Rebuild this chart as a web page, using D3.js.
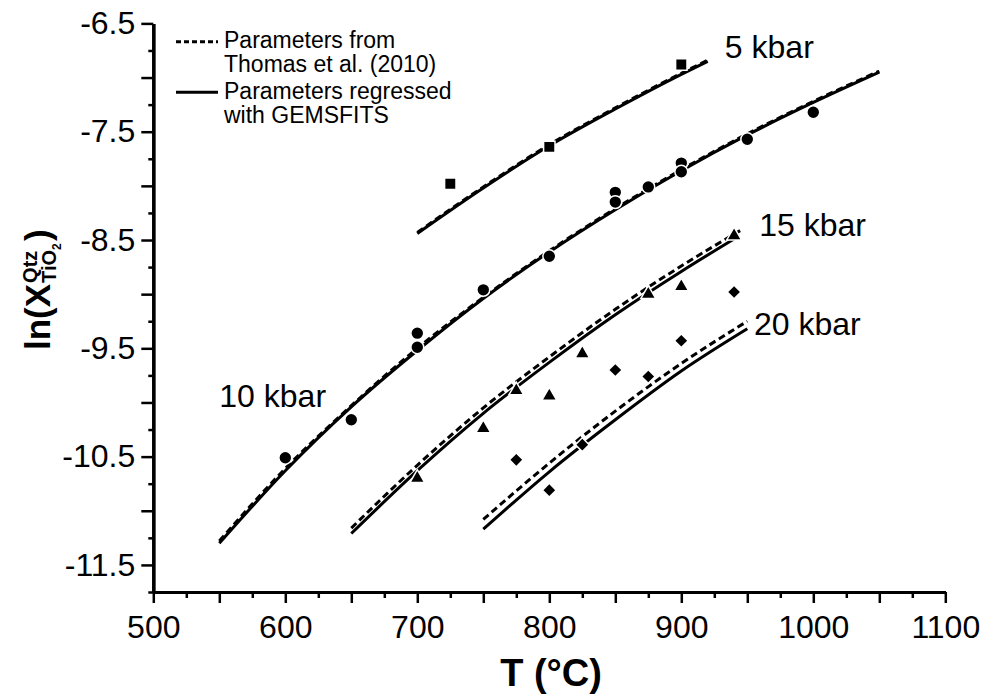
<!DOCTYPE html>
<html>
<head>
<meta charset="utf-8">
<script src="https://cdn.jsdelivr.net/npm/d3@7"></script>
<style>
  body { margin: 0; background: #fff; }
  svg { display: block; font-family: "Liberation Sans", Arial, sans-serif; }
</style>
</head>
<body>
<div id="chart"></div>
<script>
// experimental points: T (°C) and ln(X TiO2 in quartz)
const squareT = [725, 800, 900]; // 5 kbar
const squareLnX = [-7.98, -7.64, -6.88];
const circleT = [600, 650, 700, 700, 750, 800, 850, 850, 875, 900, 900, 950, 1000]; // 10 kbar
const circleLnX = [-10.51, -10.16, -9.49, -9.36, -8.96, -8.65, -8.06, -8.15, -8.01, -7.79, -7.87, -7.57, -7.32];
const triangleT = [700, 750, 775, 800, 825, 875, 900, 940]; // 15 kbar
const triangleLnX = [-10.70, -10.24, -9.89, -9.94, -9.55, -9.00, -8.93, -8.46];
const diamondT = [775, 800, 825, 850, 875, 900, 940]; // 20 kbar
const diamondLnX = [-10.53, -10.81, -10.39, -9.70, -9.76, -9.43, -8.98];

// model curves, dashed = Thomas et al. (2010), solid = GEMSFITS
const curveT5 = [700, 750, 800, 850, 900, 920];
const thomas5 = [-8.43, -8.01, -7.62, -7.28, -6.96, -6.84];
const gems5 = [-8.44, -8.02, -7.63, -7.29, -6.97, -6.85];
const curveT10 = [550, 600, 650, 700, 750, 800, 850, 900, 950, 1000, 1050];
const thomas10 = [-11.28, -10.61, -10.03, -9.50, -9.03, -8.60, -8.21, -7.85, -7.52, -7.22, -6.94];
const gems10 = [-11.30, -10.63, -10.04, -9.52, -9.04, -8.61, -8.22, -7.86, -7.53, -7.23, -6.95];
const thomasT15 = [650, 700, 750, 800, 850, 900, 945];
const thomas15 = [-11.16, -10.58, -10.05, -9.58, -9.14, -8.74, -8.41];
const gemsT15 = [650, 700, 750, 800, 850, 900, 940];
const gems15 = [-11.21, -10.63, -10.10, -9.63, -9.19, -8.79, -8.49];
const curveT20 = [750, 800, 850, 900, 950];
const thomas20 = [-11.08, -10.56, -10.08, -9.64, -9.25];
const gems20 = [-11.17, -10.64, -10.16, -9.71, -9.32];

const pressureLabels = ["5 kbar", "10 kbar", "15 kbar", "20 kbar"];
const labelT = [933, 550, 959, 955];
const labelLnX = [-6.82, -10.04, -8.46, -9.38];

const xTickLabels = [500, 600, 700, 800, 900, 1000, 1100];
const yTickLabels = [-6.5, -7.5, -8.5, -9.5, -10.5, -11.5];
const legendLabels = [["Parameters from", "Thomas et al. (2010)"], ["Parameters regressed", "with GEMSFITS"]];

const zip = (xs, ys) => xs.map((x, i) => [x, ys[i]]);

const width = 986, height = 695;
const svg = d3.select("#chart").append("svg")
  .attr("width", width)
  .attr("height", height);

const x = d3.scaleLinear().domain([500, 1100]).range([153.3, 945.3]);
const y = d3.scaleLinear().domain([-11.75, -6.5]).range([592, 23.4]);

// axes: minor ticks, major ticks, labelled ticks
const xAxisG = svg.append("g").attr("transform", "translate(0,592)");
xAxisG.append("g").call(d3.axisBottom(x).tickValues(d3.range(525, 1100, 50)).tickSize(6).tickSizeOuter(0).tickFormat(""));
xAxisG.append("g").call(d3.axisBottom(x).tickValues(d3.range(550, 1100, 100)).tickSize(11).tickSizeOuter(0).tickFormat(""));
xAxisG.append("g").call(d3.axisBottom(x).tickValues(xTickLabels).tickSize(11).tickSizeOuter(0).tickPadding(12).tickFormat(d => d));

const yAxisG = svg.append("g").attr("transform", "translate(153.3,0)");
yAxisG.append("g").call(d3.axisLeft(y).tickValues(d3.range(-11.75, -6.5, 0.5)).tickSize(5).tickSizeOuter(0).tickFormat(""));
yAxisG.append("g").call(d3.axisLeft(y).tickValues(d3.range(-11.0, -6.9, 1)).tickSize(12).tickSizeOuter(0).tickFormat(""));
yAxisG.append("g").call(d3.axisLeft(y).tickValues(yTickLabels).tickSize(12).tickSizeOuter(0).tickPadding(6).tickFormat(d => d.toFixed(1)));

svg.selectAll(".domain").attr("stroke", "#000").attr("stroke-width", 3);
svg.selectAll(".tick line").attr("stroke", "#000").attr("stroke-width", 2.5);
svg.selectAll(".tick text").attr("fill", "#000").attr("font-size", 32).attr("font-family", "Liberation Sans, Arial, sans-serif");

// axis titles
svg.append("text")
  .attr("x", 551).attr("y", 686)
  .attr("text-anchor", "middle")
  .attr("font-size", 38).attr("font-weight", "bold")
  .text("T (°C)");

const yTitle = svg.append("g")
  .attr("transform", "translate(50,350) rotate(-90)")
  .attr("font-weight", "bold");
const mainT = yTitle.append("text").attr("font-size", 35).text("ln(X");
const wMain = mainT.node().getComputedTextLength();
const supT = yTitle.append("text").attr("x", wMain + 1).attr("y", -13).attr("font-size", 20).text("Qtz");
const subT = yTitle.append("text").attr("x", wMain + 1).attr("y", 6).attr("font-size", 20).text("TiO");
const wSub = subT.node().getComputedTextLength();
yTitle.append("text").attr("x", wMain + 1 + wSub).attr("y", 11).attr("font-size", 12).text("2");
const wStack = Math.max(supT.node().getComputedTextLength(), wSub + 8);
yTitle.append("text").attr("x", wMain + wStack + 2).attr("font-size", 35).text(")");

// curves
const line = d3.line().x(d => x(d[0])).y(d => y(d[1])).curve(d3.curveMonotoneX);
const solidCurves = [zip(curveT5, gems5), zip(curveT10, gems10), zip(gemsT15, gems15), zip(curveT20, gems20)];
const dashedCurves = [zip(curveT5, thomas5), zip(curveT10, thomas10), zip(thomasT15, thomas15), zip(curveT20, thomas20)];

svg.selectAll("path.solid").data(solidCurves).join("path")
  .attr("class", "solid")
  .attr("d", line)
  .attr("fill", "none").attr("stroke", "#000").attr("stroke-width", 3);
svg.selectAll("path.dashed").data(dashedCurves).join("path")
  .attr("class", "dashed")
  .attr("d", line)
  .attr("fill", "none").attr("stroke", "#000").attr("stroke-width", 3)
  .attr("stroke-dasharray", "7,4");

// markers
const markerSets = [
  { pts: zip(squareT, squareLnX), sym: d3.symbol(d3.symbolSquare, 130), rot: 0 },
  { pts: zip(circleT, circleLnX), sym: d3.symbol(d3.symbolCircle, 130), rot: 0 },
  { pts: zip(triangleT, triangleLnX), sym: d3.symbol(d3.symbolTriangle, 95), rot: 0 },
  { pts: zip(diamondT, diamondLnX), sym: d3.symbol(d3.symbolSquare, 95), rot: 45 },
];
markerSets.forEach(set => {
  svg.append("g").selectAll("path")
    .data(set.pts).join("path")
    .attr("d", set.sym)
    .attr("transform", d => `translate(${x(d[0])},${y(d[1])}) rotate(${set.rot})`)
    .attr("fill", "#000")
    .attr("stroke", "#fff").attr("stroke-width", 1.5);
});

// pressure labels
svg.selectAll("text.plabel").data(pressureLabels).join("text")
  .attr("class", "plabel")
  .attr("x", (d, i) => x(labelT[i]))
  .attr("y", (d, i) => y(labelLnX[i]))
  .attr("font-size", 32)
  .text(d => d);

// legend
const legend = svg.append("g");
legend.append("line").attr("x1", 176).attr("x2", 218).attr("y1", 41.7).attr("y2", 41.7)
  .attr("stroke", "#000").attr("stroke-width", 3).attr("stroke-dasharray", "5,3");
legend.append("line").attr("x1", 176).attr("x2", 218).attr("y1", 92.3).attr("y2", 92.3)
  .attr("stroke", "#000").attr("stroke-width", 3);
const legendY = [[48, 72], [99, 123]];
legendLabels.forEach((lines, i) => {
  lines.forEach((t, j) => {
    legend.append("text")
      .attr("x", 224).attr("y", legendY[i][j])
      .attr("font-size", 23)
      .text(t);
  });
});
</script>
</body>
</html>
